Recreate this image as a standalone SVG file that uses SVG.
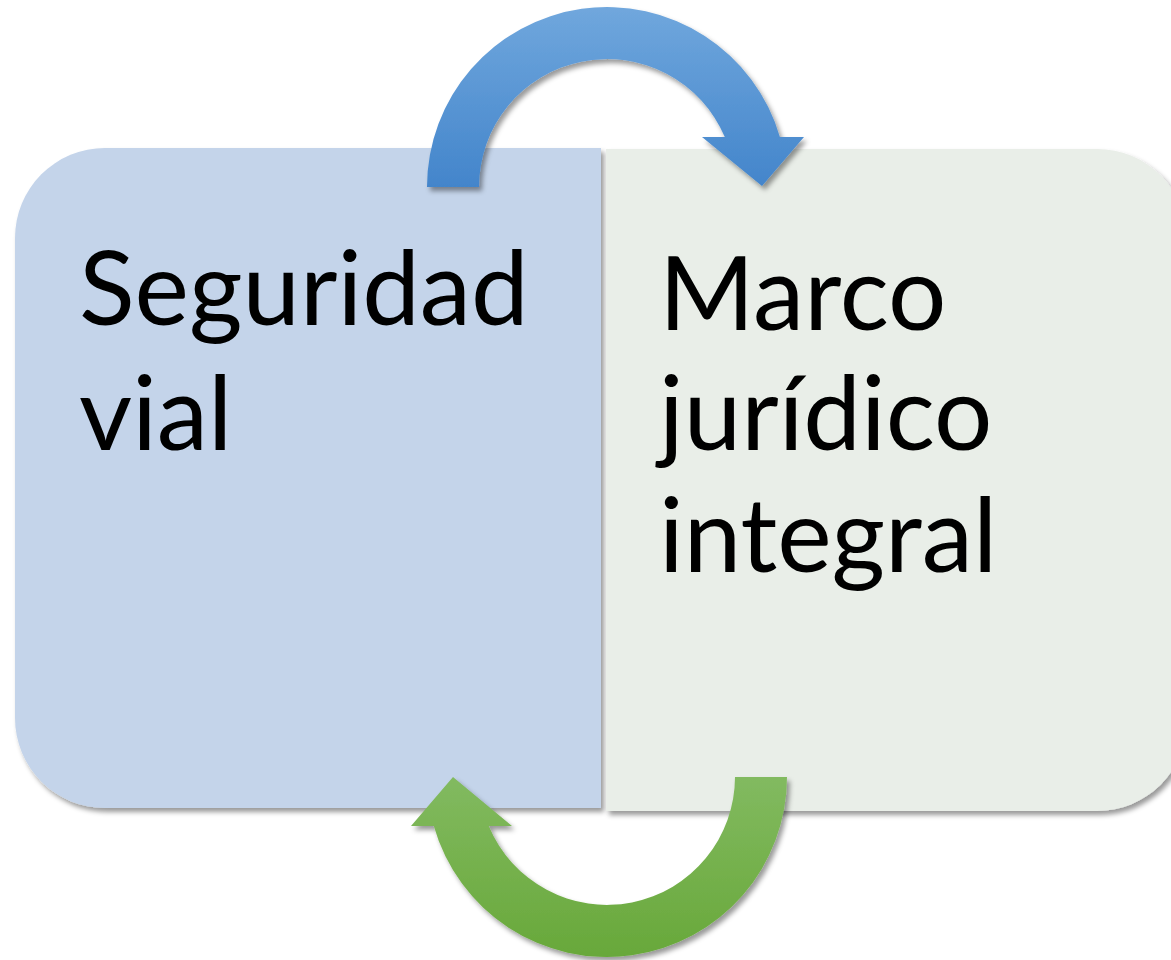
<svg xmlns="http://www.w3.org/2000/svg" width="1171" height="960" viewBox="0 0 1171 960">
<defs>
<filter id="sh" x="-10%" y="-10%" width="130%" height="130%">
<feDropShadow dx="3" dy="4" stdDeviation="2.5" flood-color="#000" flood-opacity="0.4"/>
</filter>
<linearGradient id="gb" x1="0" y1="7" x2="0" y2="187" gradientUnits="userSpaceOnUse">
<stop offset="0" stop-color="#70a7dd"/>
<stop offset="1" stop-color="#4385cb"/>
</linearGradient>
<linearGradient id="gg" x1="0" y1="777" x2="0" y2="957" gradientUnits="userSpaceOnUse">
<stop offset="0" stop-color="#82ba60"/>
<stop offset="1" stop-color="#68a83a"/>
</linearGradient>
</defs>
<style>
.lbl{font-family:Lato,"Open Sans",sans-serif;font-size:103px;fill:#000}
</style>
<rect width="1171" height="960" fill="#fff"/>
<g id="node-seguridad">
<path d="M601 148 L105 148 A90 90 0 0 0 15 238 L15 718 A90 90 0 0 0 105 808 L601 808 Z" fill="#c4d4ea" filter="url(#sh)"/>
<text class="lbl" x="79" y="325">Seguridad</text>
<text class="lbl" x="79" y="450">vial</text>
</g>
<g id="node-marco">
<path d="M606 149 L1097 149 A90 90 0 0 1 1187 239 L1187 721 A90 90 0 0 1 1097 811 L606 811 Z" fill="#e9eee8" filter="url(#sh)"/>
<text class="lbl" x="659" y="330">Marco</text>
<text class="lbl" x="659" y="450">jurídico</text>
<text class="lbl" x="659" y="572">integral</text>
</g>
<g id="connectors">
<path d="M427 187 A180 180 0 0 1 779.9 137 L804 137 L762 186 L702 137 L724.8 137 A128 128 0 0 0 479 187 Z" fill="url(#gb)" filter="url(#sh)"/>
<path d="M787 777 A180 180 0 0 1 433.8 826 L411 826 L453 777 L512 826 L488.8 826 A128 128 0 0 0 735 777 Z" fill="url(#gg)" filter="url(#sh)"/>
</g>
</svg>
